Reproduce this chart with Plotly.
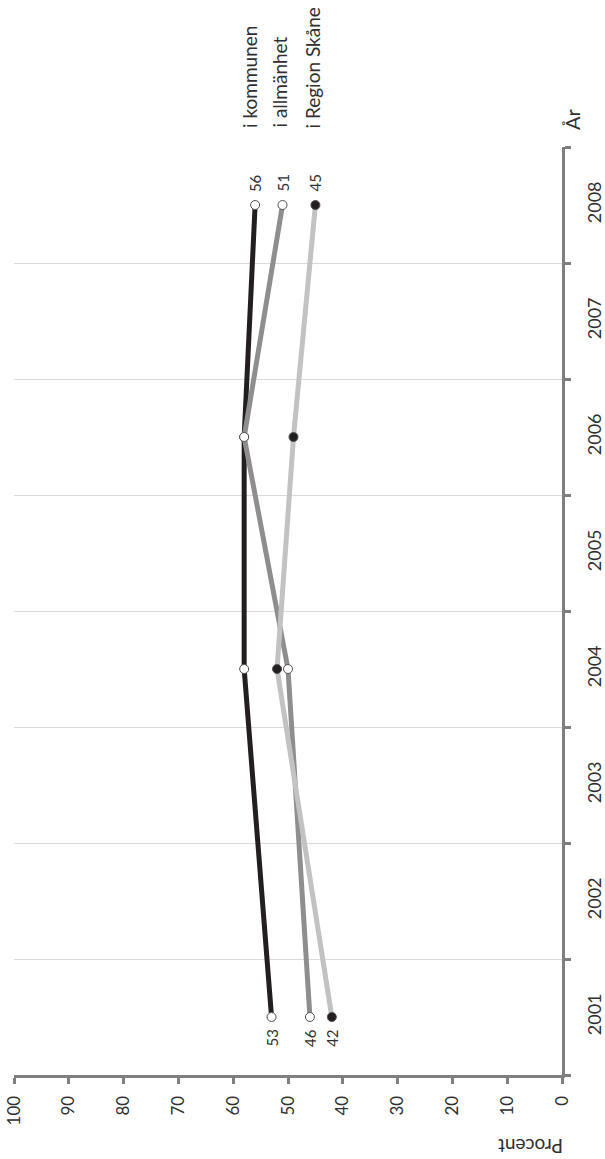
import plotly.graph_objects as go

years = [2001, 2004, 2006, 2008]
year_ticks = [2001, 2002, 2003, 2004, 2005, 2006, 2007, 2008]
kommunen = [53, 58, 58, 56]
allmanhet = [46, 50, 58, 51]
region = [42, 52, 49, 45]
series_names = ["i kommunen", "i allmänhet", "i Region Skåne"]
value_ticks = [0, 10, 20, 30, 40, 50, 60, 70, 80, 90, 100]

W, H = 605, 1159
L, R, T, B = 14, 43, 147, 84
PW, PH = W - L - R, H - T - B
FONT = "Lato, 'Open Sans', sans-serif"
TXT = "#303030"
AX = "#7f7f7f"


def px2paper(px, py):
    return (px - L) / PW, 1 - (py - T) / PH


series = [
    (series_names[0], kommunen, "#231f20", "white"),
    (series_names[1], allmanhet, "#8e8e8e", "white"),
    (series_names[2], region, "#c2c2c2", "#231f20"),
]

fig = go.Figure()
for name, vals, col, mcol in series:
    fig.add_trace(go.Scatter(
        x=vals, y=years, mode="lines+markers", name=name,
        line=dict(color=col, width=5),
        marker=dict(size=9, color=mcol, line=dict(color="#505050", width=1)),
        showlegend=False,
    ))

annotations = []
for name, vals, col, mcol in series:
    annotations.append(dict(x=vals[-1], y=years[-1], xref="x", yref="y",
                            text=str(vals[-1]), showarrow=False, textangle=-90,
                            yshift=22, font=dict(family=FONT, size=15, color=TXT)))
    annotations.append(dict(x=vals[0], y=years[0], xref="x", yref="y",
                            text=str(vals[0]), showarrow=False, textangle=-90,
                            yshift=-21, font=dict(family=FONT, size=15, color=TXT)))

leg_x = [249, 279, 312]
for name, px in zip(series_names, leg_x):
    ax_, ay_ = px2paper(px, 130)
    annotations.append(dict(x=ax_, y=ay_, xref="paper", yref="paper",
                            text=name, showarrow=False, textangle=-90,
                            xanchor="center", yanchor="bottom",
                            font=dict(family=FONT, size=19, color=TXT)))

ax_, ay_ = px2paper(572, 119)
annotations.append(dict(x=ax_, y=ay_, xref="paper", yref="paper",
                        text="År", showarrow=False, textangle=-90,
                        xanchor="center", yanchor="middle",
                        font=dict(family=FONT, size=20, color=TXT)))
ax_, ay_ = px2paper(531, 1147)
annotations.append(dict(x=ax_, y=ay_, xref="paper", yref="paper",
                        text="Procent", showarrow=False, textangle=180,
                        xanchor="center", yanchor="middle",
                        font=dict(family=FONT, size=19, color=TXT)))

fig.update_layout(
    width=W, height=H, autosize=False,
    margin=dict(l=L, r=R, t=T, b=B, pad=0),
    plot_bgcolor="white", paper_bgcolor="white",
    annotations=annotations,
    xaxis=dict(
        range=[100, 0], tickvals=value_ticks, tickangle=-90,
        showgrid=False, zeroline=False, automargin=False,
        showline=True, linecolor=AX, linewidth=3,
        ticks="outside", ticklen=6, tickwidth=2.5, tickcolor=AX,
        tickfont=dict(family=FONT, size=17, color=TXT),
        ticklabelstandoff=5,
    ),
    yaxis=dict(
        side="right", range=[2000.5, 2008.5],
        tickvals=year_ticks, tickangle=-90, ticks="", ticklen=0,
        showgrid=False, zeroline=False, automargin=False,
        showline=True, linecolor=AX, linewidth=3,
        tickfont=dict(family=FONT, size=18, color=TXT),
        ticklabelstandoff=14,
        minor=dict(tickvals=[y - 0.5 for y in year_ticks] + [year_ticks[-1] + 0.5],
                   showgrid=True, gridcolor="#dadada", gridwidth=1.2,
                   ticks="outside", ticklen=6, tickwidth=2.5, tickcolor=AX),
    ),
)

fig.write_html("out.html", config={"displayModeBar": False},
               post_script="document.body.style.margin='0';")
